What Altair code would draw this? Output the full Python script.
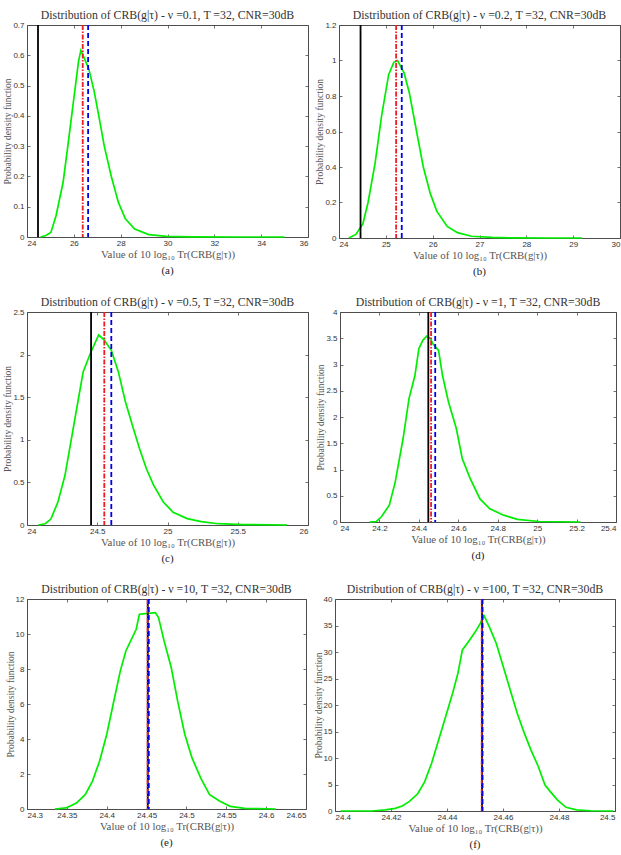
import altair as alt
import pandas as pd

# ---- density curves, one per degree-of-freedom value ----
nu_a = "0.1"
x_a = [24.58, 24.8, 25.02, 25.24, 25.54, 25.76, 25.98, 26.2, 26.3, 26.45, 26.64, 26.87,
       27.09, 27.3, 27.6, 27.9, 28.2, 28.6, 29.2, 29.97, 31.0, 33.0, 35.0]
y_a = [0.0, 0.005, 0.015, 0.07, 0.18, 0.31, 0.445, 0.58, 0.616, 0.59, 0.555, 0.48,
       0.39, 0.30, 0.20, 0.115, 0.06, 0.026, 0.008, 0.002, 0.0005, 0.0, 0.0]
v_a = [24.47, 26.38, 26.61]

nu_b = "0.2"
x_b = [24.21, 24.36, 24.51, 24.62, 24.77, 24.91, 25.06, 25.17, 25.25, 25.39, 25.5,
       25.65, 25.8, 25.95, 26.09, 26.31, 26.53, 26.83, 27.27, 27.7, 28.5, 29.19]
y_b = [0.0, 0.02, 0.08, 0.2, 0.42, 0.69, 0.92, 0.99, 1.0, 0.93, 0.82,
       0.61, 0.40, 0.25, 0.15, 0.065, 0.03, 0.01, 0.003, 0.001, 0.0, 0.0]
v_b = [24.46, 25.22, 25.34]

nu_c = "0.5"
x_c = [24.08, 24.13, 24.17, 24.22, 24.27, 24.32, 24.37, 24.40, 24.45, 24.51, 24.55,
       24.60, 24.65, 24.70, 24.75, 24.80, 24.85, 24.90, 24.97, 25.04, 25.14, 25.24,
       25.36, 25.54, 25.85]
y_c = [0.0, 0.015, 0.07, 0.27, 0.58, 1.05, 1.52, 1.80, 2.01, 2.23, 2.17,
       2.05, 1.80, 1.45, 1.17, 0.90, 0.66, 0.47, 0.27, 0.15, 0.075, 0.04,
       0.015, 0.005, 0.0]
v_c = [24.456, 24.55, 24.60]

nu_d = "1"
x_d = [24.15, 24.185, 24.21, 24.25, 24.28, 24.32, 24.35, 24.38, 24.40, 24.42, 24.44,
       24.46, 24.47, 24.50, 24.52, 24.55, 24.59, 24.62, 24.66, 24.71, 24.76, 24.83,
       24.90, 25.01, 25.22]
y_d = [0.0, 0.01, 0.1, 0.32, 0.76, 1.59, 2.35, 2.79, 3.30, 3.46, 3.54,
       3.49, 3.40, 3.27, 2.79, 2.29, 1.78, 1.21, 0.83, 0.44, 0.25, 0.13,
       0.05, 0.01, 0.0]
v_d = [24.448, 24.462, 24.483]

nu_e = "10"
x_e = [24.335, 24.349, 24.362, 24.373, 24.382, 24.391, 24.4, 24.408, 24.417, 24.424,
       24.432, 24.437, 24.441, 24.452, 24.461, 24.465, 24.472, 24.481, 24.489, 24.498,
       24.507, 24.518, 24.529, 24.542, 24.555, 24.573, 24.59, 24.612]
y_e = [0.0, 0.06, 0.34, 0.82, 1.58, 2.73, 4.26, 5.97, 7.88, 9.03,
       9.79, 10.27, 11.13, 11.18, 11.22, 10.94, 9.6, 8.07, 6.16, 4.26,
       2.92, 1.77, 0.82, 0.44, 0.15, 0.04, 0.02, 0.0]
v_e = [24.4515, 24.4513, 24.4528]

nu_f = "100"
x_f = [24.402, 24.413, 24.418, 24.4215, 24.424, 24.4265, 24.4296, 24.432, 24.4345,
       24.437, 24.4395, 24.442, 24.4439, 24.4455, 24.4476, 24.4501, 24.452, 24.4532,
       24.4551, 24.4576, 24.4601, 24.4626, 24.4651, 24.4676, 24.47, 24.4726, 24.475,
       24.4769, 24.4794, 24.4825, 24.4863, 24.4913, 24.4994]
y_f = [0.0, 0.0, 0.2, 0.5, 0.94, 1.76, 3.3, 5.5, 9.0,
       13.4, 17.8, 22.2, 26.0, 30.4, 31.9, 33.8, 35.5, 36.9,
       34.8, 31.6, 27.2, 22.8, 18.4, 14.7, 11.5, 8.4, 4.9,
       3.65, 2.1, 0.7, 0.2, 0.05, 0.0]
v_f = [24.4525, 24.4524, 24.4527]

# ---- axis ranges and tick values ----
xt_a = [24, 26, 28, 30, 32, 34, 36]
yt_a = [0, 0.1, 0.2, 0.3, 0.4, 0.5, 0.6, 0.7]
xt_b = [24, 25, 26, 27, 28, 29, 30]
yt_b = [0, 0.2, 0.4, 0.6, 0.8, 1, 1.2]
xt_c = [24, 24.5, 25, 25.5, 26]
yt_c = [0, 0.5, 1, 1.5, 2, 2.5]
xt_d = [24, 24.2, 24.4, 24.6, 24.8, 25, 25.2, 25.4]
yt_d = [0, 0.5, 1, 1.5, 2, 2.5, 3, 3.5, 4]
xt_e = [24.3, 24.35, 24.4, 24.45, 24.5, 24.55, 24.6, 24.65]
yt_e = [0, 2, 4, 6, 8, 10, 12]
xt_f = [24.4, 24.42, 24.44, 24.46, 24.48, 24.5]
yt_f = [0, 5, 10, 15, 20, 25, 30, 35, 40]

SERIF = "Liberation Serif"
SANS = "Liberation Sans"
FRAME = "#4d4d4d"
XTITLE = "Value of 10 log\u2081\u2080 Tr(CRB(g|\u03c4))"
YTITLE = "Probability density function"


def panel(xs, ys, vl, xt, yt, nu, letter, w, h):
    df = pd.DataFrame({"x": xs, "y": ys})
    xsc = alt.Scale(domain=[xt[0], xt[-1]], nice=False, zero=False)
    ysc = alt.Scale(domain=[yt[0], yt[-1]], nice=False, zero=False)
    tick_common = dict(offset=-3, tickSize=3, domain=False, grid=False,
                       tickColor=FRAME, tickWidth=0.8)
    xax = alt.Axis(values=xt, format="~g", title=XTITLE, labelPadding=2,
                   titlePadding=1, minExtent=0, **tick_common)
    yax = alt.Axis(values=yt, format="~g", title=YTITLE, labelPadding=3,
                   titlePadding=0, minExtent=0, **tick_common)
    curve = alt.Chart(df).mark_line(color="#00ee00", strokeWidth=1.7).encode(
        x=alt.X("x:Q", scale=xsc, axis=xax),
        y=alt.Y("y:Q", scale=ysc, axis=yax),
    )
    # inward ticks on the top and right sides of the frame
    bare = dict(labels=False, title=None, minExtent=0, maxExtent=0, **tick_common)
    frame = alt.Chart(df).mark_point(opacity=0).encode(
        x=alt.X("x:Q", scale=xsc, axis=alt.Axis(orient="top", values=xt, **bare)),
        y=alt.Y("y:Q", scale=ysc, axis=alt.Axis(orient="right", values=yt, **bare)),
    )
    styles = [("black", [1, 0]), ("#ee1c25", [5, 1.5, 1.5, 1.5]), ("#0000ee", [5, 3])]
    rules = []
    for val, (col, dash) in zip(vl, styles):
        rules.append(
            alt.Chart(pd.DataFrame({"v": [val]})).mark_rule(
                color=col, strokeWidth=1.8, strokeDash=dash
            ).encode(x=alt.X("v:Q", scale=xsc, axis=None))
        )
    caption = alt.Chart(pd.DataFrame({"t": [f"({letter})"]})).mark_text(
        font=SERIF, fontSize=11, color="#222"
    ).encode(text="t:N", x=alt.value(w / 2), y=alt.value(h + 34))
    title = f"Distribution of CRB(g|\u03c4) - \u03bd ={nu}, T =32, CNR=30dB"
    return alt.layer(frame, curve, *rules, caption).resolve_axis(
        x="independent", y="independent"
    ).properties(
        width=w, height=h,
        view=alt.ViewBackground(stroke=FRAME, strokeWidth=1),
        title=alt.TitleParams(title, font=SERIF, fontSize=11.8, fontWeight="normal",
                              color="#333", offset=-1, anchor="middle"),
    )


row1 = alt.hconcat(
    panel(x_a, y_a, v_a, xt_a, yt_a, nu_a, "a", 281, 212),
    panel(x_b, y_b, v_b, xt_b, yt_b, nu_b, "b", 281, 213),
    spacing=5,
)
row2 = alt.hconcat(
    panel(x_c, y_c, v_c, xt_c, yt_c, nu_c, "c", 281, 213),
    panel(x_d, y_d, v_d, xt_d, yt_d, nu_d, "d", 276, 210),
    spacing=6,
)
row3 = alt.hconcat(
    panel(x_e, y_e, v_e, xt_e, yt_e, nu_e, "e", 279, 210),
    panel(x_f, y_f, v_f, xt_f, yt_f, nu_f, "f", 280, 212),
    spacing=5,
)

chart = alt.vconcat(row1, row2, row3, spacing=18).properties(
    padding={"left": 2, "top": 9, "right": 0, "bottom": 0},
    background="white",
).configure_view(
    stroke=FRAME, strokeWidth=1
).configure_axis(
    labelFont=SANS, labelFontSize=8, labelColor="#333",
    titleFont=SERIF, titleFontWeight="normal", titleColor="#555",
).configure_axisX(
    titleFontSize=10.8
).configure_axisY(
    titleFontSize=9.5
)

chart.save("out.html", embed_options={"renderer": "svg", "actions": False})
